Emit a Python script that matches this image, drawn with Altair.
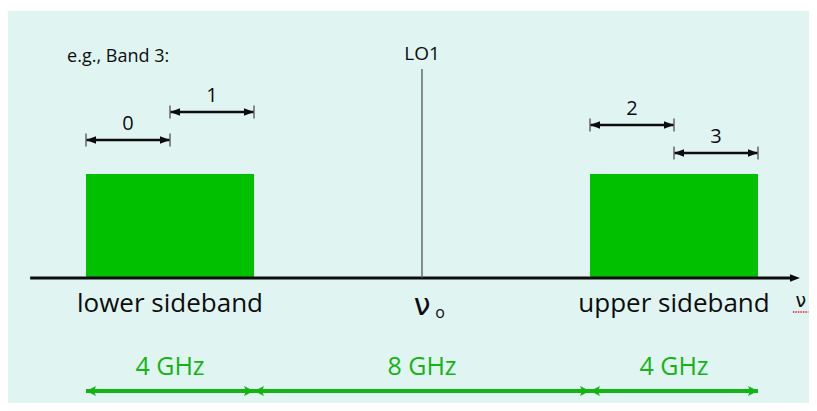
import altair as alt
import pandas as pd

# ---------------- data (frequencies in GHz, relative to LO1) ----------------
band_names = ["lower sideband", "upper sideband"]
band_lo = [-8, 4]
band_hi = [-4, 8]

sub_labels = ["0", "1", "2", "3"]
sub_lo = [-8, -6, 4, 6]
sub_hi = [-6, -4, 6, 8]

span_labels = ["4 GHz", "8 GHz", "4 GHz"]
span_lo = [-8, -4, 4]
span_hi = [-4, 4, 8]

lo_freq = 0
lo_label = "LO1"
title_text = "e.g., Band 3:"

# ---------------- layout (vertical levels, arbitrary units) ----------------
BAND_TOP = 104
SUB_LEVEL = [138, 166, 153, 125]
LO_TOP = 209
SPAN_Y = -113
AXIS_X0, AXIS_X1, AXIS_TIP = -9.33, 8.8, 9.0

PANEL = "#e0f5f2"
GREEN = "#00c000"
GREEN_DARK = "#14b414"
INK = "#0d0d0d"
FONT = "Open Sans"

xscale = alt.Scale(domain=[-414 / 42, 387 / 42], nice=False, zero=False)
yscale = alt.Scale(domain=[-125, 267], nice=False, zero=False)


def X(f):
    return alt.X(f"{f}:Q", scale=xscale, axis=None)


def Y(f):
    return alt.Y(f"{f}:Q", scale=yscale, axis=None)


LEFT_HEAD = "M0,0L2,-0.75L2,0.75Z"
RIGHT_HEAD = "M0,0L-2,-0.75L-2,0.75Z"
LEFT_HEAD_G = "M0,0L2,-1L1.6,0L2,1Z"
RIGHT_HEAD_G = "M0,0L-2,-1L-1.6,0L-2,1Z"
VBAR = "M0,-1L0,1"

bands = pd.DataFrame({"name": band_names, "lo": band_lo, "hi": band_hi})
bands["y0"] = 0
bands["y1"] = BAND_TOP
bands["mid"] = (bands.lo + bands.hi) / 2
bands["ty"] = -34

subs = pd.DataFrame({"label": sub_labels, "lo": sub_lo, "hi": sub_hi, "y": SUB_LEVEL})
subs["mid"] = (subs.lo + subs.hi) / 2
subs["ty"] = subs.y + 10

spans = pd.DataFrame({"label": span_labels, "lo": span_lo, "hi": span_hi})
spans["y"] = SPAN_Y
spans["mid"] = (spans.lo + spans.hi) / 2
spans["ty"] = SPAN_Y + 16

axis_df = pd.DataFrame({"x0": [AXIS_X0], "x1": [AXIS_X1], "tip": [AXIS_TIP], "y": [0]})
lo_df = pd.DataFrame({"x": [lo_freq], "y0": [0], "y1": [LO_TOP], "ty": [218], "label": [lo_label]})

layers = []

# sideband rectangles
layers.append(
    alt.Chart(bands).mark_rect(color=GREEN).encode(x=X("lo"), x2="hi:Q", y=Y("y0"), y2="y1:Q")
)
# frequency axis
layers.append(
    alt.Chart(axis_df).mark_rule(color=INK, strokeWidth=3).encode(x=X("x0"), x2="x1:Q", y=Y("y"))
)
layers.append(
    alt.Chart(axis_df).mark_point(shape=RIGHT_HEAD, size=100, filled=True, color=INK, opacity=1)
    .encode(x=X("tip"), y=Y("y"))
)
# LO line + label
layers.append(
    alt.Chart(lo_df).mark_rule(color="#555555", strokeWidth=1.3).encode(x=X("x"), y=Y("y0"), y2="y1:Q")
)
layers.append(
    alt.Chart(lo_df).mark_text(font=FONT, fontSize=19, color=INK, baseline="alphabetic", align="center")
    .encode(x=X("x"), y=Y("ty"), text="label:N")
)
# title
title_df = pd.DataFrame({"x": [-8.45], "y": [216], "t": [title_text]})
layers.append(
    alt.Chart(title_df).mark_text(font=FONT, fontSize=18, color=INK, baseline="alphabetic", align="left")
    .encode(x=X("x"), y=Y("y"), text="t:N")
)
# sub-band dimension arrows
layers.append(
    alt.Chart(subs).mark_rule(color=INK, strokeWidth=2.5).encode(x=X("lo"), x2="hi:Q", y=Y("y"))
)
layers.append(
    alt.Chart(subs).mark_point(shape=LEFT_HEAD, size=100, filled=True, color=INK, opacity=1)
    .encode(x=X("lo"), y=Y("y"))
)
layers.append(
    alt.Chart(subs).mark_point(shape=RIGHT_HEAD, size=100, filled=True, color=INK, opacity=1)
    .encode(x=X("hi"), y=Y("y"))
)
layers.append(
    alt.Chart(subs).mark_point(shape=VBAR, size=169, filled=False, color="#666666", strokeWidth=1.5, opacity=1)
    .encode(x=X("lo"), y=Y("y"))
)
layers.append(
    alt.Chart(subs).mark_point(shape=VBAR, size=169, filled=False, color="#666666", strokeWidth=1.5, opacity=1)
    .encode(x=X("hi"), y=Y("y"))
)
layers.append(
    alt.Chart(subs).mark_text(font=FONT, fontSize=20, color=INK, baseline="alphabetic", align="center")
    .encode(x=X("mid"), y=Y("ty"), text="label:N")
)
# sideband labels
layers.append(
    alt.Chart(bands).mark_text(font=FONT, fontSize=26, color=INK, baseline="alphabetic", align="center")
    .encode(x=X("mid"), y=Y("ty"), text="name:N")
)
# nu_0 and nu
nu_df = pd.DataFrame({"x": [0.0, 0.43, 9.02], "y": [-37, -40, -29], "t": ["ν", "o", "ν"], "s": [30, 16, 19],
                      "f": ["DejaVu Sans", FONT, "DejaVu Sans"]})
for i in range(3):
    layers.append(
        alt.Chart(nu_df.iloc[[i]]).mark_text(font=nu_df.f[i], fontSize=int(nu_df.s[i]), color=INK,
                                              baseline="alphabetic", align="center")
        .encode(x=X("x"), y=Y("y"), text="t:N")
    )
wavy_df = pd.DataFrame({"x0": [8.83], "x1": [9.2], "y": [-34]})
layers.append(
    alt.Chart(wavy_df).mark_rule(color="#e02020", strokeWidth=1.5, strokeDash=[1.5, 1])
    .encode(x=X("x0"), x2="x1:Q", y=Y("y"))
)
# bandwidth spans (green)
layers.append(
    alt.Chart(spans).mark_rule(color=GREEN_DARK, strokeWidth=4).encode(x=X("lo"), x2="hi:Q", y=Y("y"))
)
layers.append(
    alt.Chart(spans).mark_point(shape=LEFT_HEAD_G, size=100, filled=True, color=GREEN_DARK, opacity=1)
    .encode(x=X("lo"), y=Y("y"))
)
layers.append(
    alt.Chart(spans).mark_point(shape=RIGHT_HEAD_G, size=100, filled=True, color=GREEN_DARK, opacity=1)
    .encode(x=X("hi"), y=Y("y"))
)
layers.append(
    alt.Chart(spans).mark_text(font=FONT, fontSize=25, color=GREEN_DARK, baseline="alphabetic", align="center")
    .encode(x=X("mid"), y=Y("ty"), text="label:N")
)

chart = (
    alt.layer(*layers)
    .properties(
        width=801,
        height=392,
        autosize=alt.AutoSizeParams(type="none"),
        padding={"left": 0, "top": 3, "right": 0, "bottom": 0},
        background="white",
    )
    .configure_view(fill=PANEL, stroke=None)
)

chart.save("out.html", embed_options={"renderer": "svg", "actions": False})
